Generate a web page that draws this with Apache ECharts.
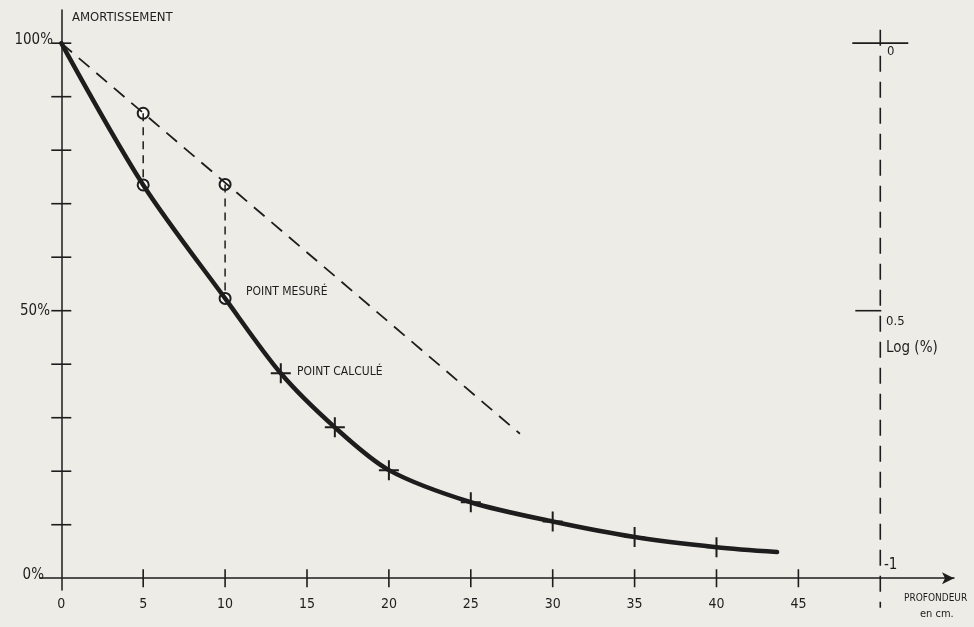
<!DOCTYPE html>
<html>
<head>
<meta charset="utf-8">
<script src="https://cdn.jsdelivr.net/npm/echarts@6/dist/echarts.min.js"></script>
<style>
  html, body { margin: 0; padding: 0; background: #edece6; }
  #chart { width: 974px; height: 627px; }
</style>
</head>
<body>
<div id="chart"></div>
<script>
// courbe d'amortissement (profondeur en cm, amortissement en %)
const depth = [0, 5, 10, 13.4, 16.7, 20, 25, 30, 35, 40, 43.7];
const amort = [100, 73.5, 52.3, 38.3, 28.2, 20.2, 14.2, 10.6, 7.7, 5.8, 4.9];
// points mesurés (cercles)
const mesureX = [5, 10];
const mesureLow = [73.5, 52.3];
const mesureHigh = [86.9, 73.6];
// droite en tirets
const droiteX = [0, 28];
const droiteY = [100, 27];
// points calculés (croix)
const calculX = [13.4, 16.7, 20, 25, 30, 35, 40];
const calculY = [38.3, 28.2, 20.2, 14.2, 10.6, 7.7, 5.8];
// graduations
const xTicks = [5, 10, 15, 20, 25, 30, 35, 40, 45];
const xLabels = [0, 5, 10, 15, 20, 25, 30, 35, 40, 45];
const yTicks = [10, 20, 30, 40, 50, 60, 70, 80, 90, 100];
// axe log à droite
const logX = 50;
const logTop = 102.5;
const logBottom = -5.5;

let ink = '#1d1d1d';
let bg = '#edece6';
let hand = '"DejaVu Sans Condensed", "DejaVu Sans", sans-serif';

let chart = echarts.init(document.getElementById('chart'));

function txt(x, y, s, size, align) {
  return {
    type: 'text', x: x, y: y,
    style: { text: s, fill: ink, font: size + 'px ' + hand, align: align || 'left', verticalAlign: 'middle' }
  };
}

let option = {
  backgroundColor: bg,
  animation: false,
  grid: { left: 40, right: 20, top: 10, bottom: 37 },
  xAxis: {
    type: 'value', min: -1.3, max: 54.5,
    axisLine: { onZero: true, symbol: ['none', 'arrow'], symbolSize: [9, 12], lineStyle: { color: ink, width: 1.5 } },
    axisTick: { show: false },
    splitLine: { show: false },
    axisLabel: { customValues: xLabels, color: ink, fontSize: 14, margin: 7, fontFamily: hand }
  },
  yAxis: {
    type: 'value', min: -2.2, max: 106.2,
    axisLine: { onZero: true, lineStyle: { color: ink, width: 1.5 } },
    axisTick: { show: false },
    splitLine: { show: false },
    axisLabel: { show: false }
  },
  series: [
    {
      // droite théorique
      type: 'line',
      data: droiteX.map((x, i) => [x, droiteY[i]]),
      symbol: 'none',
      lineStyle: { color: ink, width: 1.8, type: [14, 9] }
    },
    {
      // raccords verticaux
      type: 'line',
      data: [[mesureX[0], mesureHigh[0]], [mesureX[0], mesureLow[0]], null, [mesureX[1], mesureHigh[1]], [mesureX[1], mesureLow[1]]],
      connectNulls: false,
      symbol: 'none',
      lineStyle: { color: ink, width: 1.5, type: [8, 6] }
    },
    {
      // courbe mesurée
      type: 'line',
      data: depth.map((x, i) => [x, amort[i]]),
      smooth: 0.3,
      symbol: 'none',
      lineStyle: { color: ink, width: 4.5, cap: 'round' }
    },
    {
      // axe log
      type: 'line',
      data: [[logX, logTop], [logX, logBottom]],
      clip: false,
      symbol: 'none',
      lineStyle: { color: ink, width: 1.6, type: [16, 10] }
    },
    {
      // graduations x
      type: 'scatter',
      data: xTicks.map(v => [v, 0]),
      symbol: 'rect', symbolSize: [1.6, 18],
      itemStyle: { color: ink, opacity: 1 }
    },
    {
      // graduations y
      type: 'scatter',
      data: yTicks.map(v => [0, v]),
      symbol: 'rect', symbolSize: [20, 1.6],
      itemStyle: { color: ink, opacity: 1 }
    },
    {
      // graduations axe log
      type: 'scatter',
      data: [[logX, 100]],
      symbol: 'rect', symbolSize: [56, 1.6],
      itemStyle: { color: ink, opacity: 1 }
    },
    {
      type: 'scatter',
      data: [[logX, 50]],
      symbol: 'rect', symbolSize: [26, 1.6], symbolOffset: [-12, 0],
      itemStyle: { color: ink, opacity: 1 }
    },
    {
      // points calculés
      type: 'scatter',
      data: calculX.map((x, i) => [x, calculY[i]]),
      symbol: 'path://M9,0L11,0L11,9L20,9L20,11L11,11L11,20L9,20L9,11L0,11L0,9L9,9Z',
      symbolSize: 20,
      itemStyle: { color: ink, opacity: 1 }
    },
    {
      // points mesurés
      type: 'scatter',
      data: mesureX.map((x, i) => [x, mesureHigh[i]]).concat(mesureX.map((x, i) => [x, mesureLow[i]])),
      symbol: 'circle', symbolSize: 11,
      itemStyle: { color: '#fafaf6', borderColor: ink, borderWidth: 2, opacity: 1 }
    }
  ],
  graphic: [
    txt(72, 18, 'AMORTISSEMENT', 13),
    txt(53, 40, '100%', 15, 'right'),
    txt(50, 311, '50%', 15, 'right'),
    txt(44, 575, '0%', 15, 'right'),
    txt(246, 292, 'POINT MESURÉ', 12),
    txt(297, 372, 'POINT CALCULÉ', 12),
    txt(887, 52, '0', 13),
    txt(886, 322, '0.5', 13),
    txt(886, 348, 'Log (%)', 15),
    txt(884, 565, '-1', 15),
    txt(904, 598, 'PROFONDEUR', 10),
    txt(920, 614, 'en cm.', 11)
  ]
};

option && chart.setOption(option);
</script>
</body>
</html>
